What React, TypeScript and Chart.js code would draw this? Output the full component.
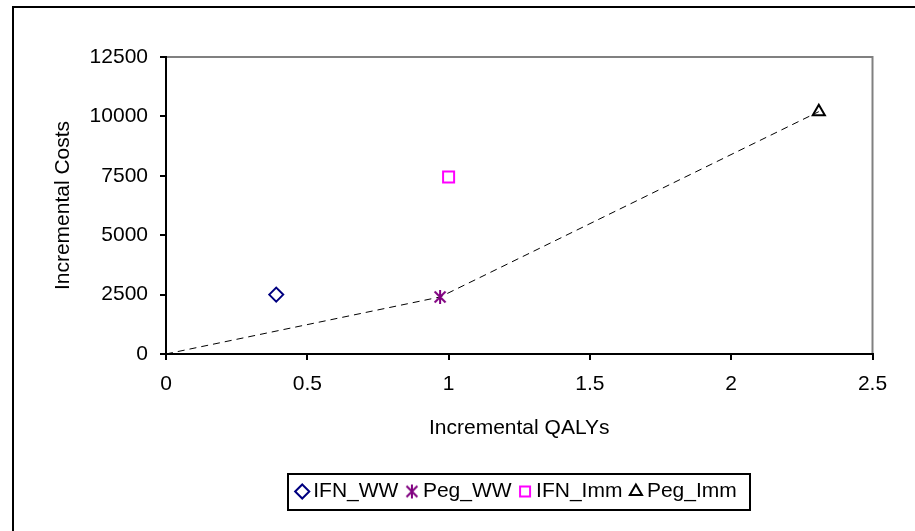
import React, { useEffect, useRef } from 'react';
import { Chart, registerables } from 'chart.js';

Chart.register(...registerables);

// ---- data ----
const SERIES_NAMES = ['IFN_WW', 'Peg_WW', 'IFN_Imm', 'Peg_Imm'];
const QALYS = [0.39, 0.97, 1.0, 2.31];
const COSTS = [2500, 2400, 7450, 10200];
const FRONTIER_POINTS = [1, 3]; // series on the dashed frontier (after origin)
const ORIGIN_X = 0;
const ORIGIN_Y = 0;
const X_TICKS = [0, 0.5, 1, 1.5, 2, 2.5];
const X_TICK_LABELS = ['0', '0.5', '1', '1.5', '2', '2.5'];
const Y_TICKS = [0, 2500, 5000, 7500, 10000, 12500];
const Y_TICK_LABELS = ['0', '2500', '5000', '7500', '10000', '12500'];
const X_TITLE = 'Incremental QALYs';
const Y_TITLE = 'Incremental Costs';

// ---- styles ----
const FONT = "'Liberation Sans', Arial, sans-serif";
const FS = 21;

function makeStar(color: string, size: number, lw: number) {
  const c = document.createElement('canvas');
  c.width = size;
  c.height = size;
  const g = c.getContext('2d')!;
  g.strokeStyle = color;
  g.lineWidth = lw;
  const m = size / 2;
  const r = size / 2 - 1;
  const d = r * 0.78;
  g.beginPath();
  g.moveTo(m, m - r);
  g.lineTo(m, m + r);
  g.moveTo(m - d, m - d);
  g.lineTo(m + d, m + d);
  g.moveTo(m + d, m - d);
  g.lineTo(m - d, m + d);
  g.stroke();
  return c;
}

const framePlugin = {
  id: 'frame',
  beforeDraw(chart: any) {
    const { ctx, chartArea: a } = chart;
    ctx.save();
    ctx.strokeStyle = '#000';
    ctx.lineWidth = 2;
    ctx.beginPath();
    ctx.moveTo(13, chart.height + 5);
    ctx.lineTo(13, 7);
    ctx.lineTo(chart.width + 5, 7);
    ctx.stroke();
    ctx.strokeStyle = '#808080';
    ctx.lineWidth = 2;
    ctx.strokeRect(a.left, a.top, a.right - a.left, a.bottom - a.top);
    ctx.restore();
  },
  afterDraw(chart: any) {
    const hb = chart.legend && chart.legend.legendHitBoxes;
    if (!hb || !hb.length) return;
    const { ctx } = chart;
    const first = hb[0];
    const last = hb[hb.length - 1];
    const cy = first.top + first.height / 2;
    const l = first.left - 14;
    const r = last.left + last.width + 13;
    ctx.save();
    ctx.strokeStyle = '#000';
    ctx.lineWidth = 2;
    ctx.strokeRect(Math.round(l), Math.round(cy - 18), Math.round(r - l), 36);
    ctx.restore();
  },
};

export default function App() {
  const ref = useRef<HTMLCanvasElement>(null);

  useEffect(() => {
    const star = makeStar('#800080', 16, 2);
    const pointStyles: any[] = ['rectRot', star, 'rect', 'triangle'];
    const colors = ['#000080', '#800080', '#FF00FF', '#000000'];
    const radii = [7, 8, 7.8, 7];

    const scatterSets = SERIES_NAMES.map((name, i) => ({
      type: 'scatter' as const,
      label: name,
      data: [{ x: QALYS[i], y: COSTS[i] }],
      pointStyle: pointStyles[i],
      backgroundColor: 'rgba(0,0,0,0)',
      borderColor: colors[i],
      borderWidth: 2,
      pointBackgroundColor: 'rgba(0,0,0,0)',
      pointBorderColor: colors[i],
      pointBorderWidth: 2,
      pointRadius: radii[i],
      showLine: false,
    }));

    const frontier = {
      type: 'scatter' as const,
      label: 'frontier',
      data: [{ x: ORIGIN_X, y: ORIGIN_Y }, ...FRONTIER_POINTS.map((i) => ({ x: QALYS[i], y: COSTS[i] }))],
      showLine: true,
      borderColor: '#000',
      borderWidth: 1,
      borderDash: [7, 5],
      pointRadius: 0,
      fill: false,
    };

    const axisCommon = {
      grid: {
        drawOnChartArea: false,
        drawTicks: true,
        tickLength: 6,
        tickColor: '#000',
        tickWidth: 2,
        color: '#000',
        lineWidth: 2,
      },
      border: { display: true, color: '#000', width: 2 },
    };

    const chart = new Chart(ref.current!, {
      type: 'scatter',
      data: { datasets: [...scatterSets, frontier] as any },
      options: {
        responsive: false,
        maintainAspectRatio: false,
        animation: false,
        layout: { padding: { left: 12, right: 42.5, top: 57, bottom: 19 } },
        font: { family: FONT, size: FS },
        scales: {
          x: {
            type: 'linear',
            min: 0,
            max: 2.5,
            afterBuildTicks: (s: any) => {
              s.ticks = X_TICKS.map((v) => ({ value: v }));
            },
            afterFit: (s: any) => {
              s.height = 114;
            },
            ticks: {
              callback: (_v: any, i: number) => X_TICK_LABELS[i],
              padding: 12,
              color: '#000',
              font: { family: FONT, size: FS },
              maxRotation: 0,
              autoSkip: false,
            },
            title: {
              display: true,
              text: X_TITLE,
              color: '#000',
              font: { family: FONT, size: FS },
              padding: { top: 0, bottom: 27 },
            },
            ...axisCommon,
          },
          y: {
            type: 'linear',
            min: 0,
            max: 12500,
            afterBuildTicks: (s: any) => {
              s.ticks = Y_TICKS.map((v) => ({ value: v }));
            },
            afterFit: (s: any) => {
              s.width = 154;
            },
            ticks: {
              callback: (_v: any, i: number) => Y_TICK_LABELS[i],
              padding: 12,
              color: '#000',
              font: { family: FONT, size: FS },
              autoSkip: false,
            },
            title: {
              display: true,
              text: Y_TITLE,
              color: '#000',
              font: { family: FONT, size: FS },
              padding: { top: 39, bottom: 0 },
            },
            ...axisCommon,
          },
        } as any,
        plugins: {
          legend: {
            position: 'bottom',
            fullSize: false,
            labels: {
              usePointStyle: true,
              boxWidth: 1,
              boxHeight: 10,
              padding: 13,
              color: '#000',
              font: { family: FONT, size: FS },
              filter: (item: any) => item.datasetIndex < SERIES_NAMES.length,
            },
          },
          tooltip: { enabled: false },
        },
      } as any,
      plugins: [framePlugin],
    });
    return () => chart.destroy();
  }, []);

  return (
    <div style={{ position: 'absolute', left: 0, top: 0, width: 915, height: 531, background: '#fff' }}>
      <canvas ref={ref} width={915} height={531} style={{ display: 'block', width: 915, height: 531 }} />
    </div>
  );
}
